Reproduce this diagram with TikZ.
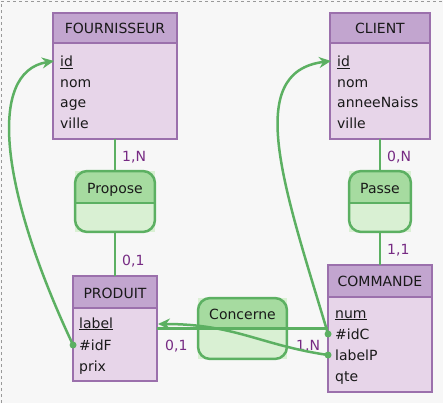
\documentclass[tikz,border=0pt]{standalone}
\usepackage{fontspec}
\setmainfont{DejaVu Sans}
\usetikzlibrary{arrows.meta}
\definecolor{bgc}{RGB}{247,247,247}
\definecolor{enthead}{RGB}{194,165,207}
\definecolor{entbody}{RGB}{231,213,233}
\definecolor{entline}{RGB}{155,112,172}
\definecolor{assohead}{RGB}{166,219,160}
\definecolor{assobody}{RGB}{217,240,211}
\definecolor{assoline}{RGB}{92,176,98}
\definecolor{cardc}{RGB}{118,42,131}
\definecolor{txtc}{RGB}{25,25,25}
\newcommand{\mcdentity}[6]{% name, cx, cy, w, h, header drop from north
  \node[entbox, minimum width=#4, minimum height=#5] (#1) at (#2,#3) {};
  \fill[enthead] (#1.north west) rectangle ([yshift=-#6pt]#1.north east);
  \draw[entline, line width=1.5pt] ([yshift=-#6pt]#1.north west) -- ([yshift=-#6pt]#1.north east);
  \draw[entline, line width=2.5pt] (#1.north west) rectangle (#1.south east);
}
\newcommand{\mcdasso}[6]{% name, cx, cy, w, h, header drop from north
  \node[assobox, minimum width=#4, minimum height=#5] (#1) at (#2,#3) {};
  \begin{scope}
    \clip[rounded corners=12pt] (#1.north west) rectangle (#1.south east);
    \fill[assohead] (#1.north west) rectangle ([yshift=-#6pt]#1.north east);
  \end{scope}
  \draw[assoline, line width=1.5pt] ([yshift=-#6pt]#1.north west) -- ([yshift=-#6pt]#1.north east);
  \draw[assoline, line width=2.5pt, rounded corners=12pt] (#1.north west) rectangle (#1.south east);
}
\begin{document}
\begin{tikzpicture}[x=1pt,y=-1pt,font=\fontsize{14}{16}\selectfont,
  entbox/.style={rectangle, fill=entbody, draw=none, inner sep=0pt},
  assobox/.style={rectangle, fill=assobody, draw=none, inner sep=0pt},
  ttl/.style={anchor=base, text=txtc, inner sep=0pt},
  attr/.style={anchor=base west, text=txtc, inner sep=0pt},
  card/.style={anchor=base west, text=cardc, inner sep=0pt},
  leg/.style={draw=assoline, line width=2.5pt},
  fk/.style={draw=assoline, line width=2.5pt, -{Stealth[length=12pt,width=11pt,inset=4pt]}},
  fkdot/.style={circle, fill=assoline, inner sep=0pt, minimum size=7pt}]
\fill[bgc] (0,0) rectangle (443,403);
\useasboundingbox (0,0) rectangle (443,403);
\draw[gray!80, dashed, line width=0.8pt] (1.2,403) -- (1.2,1.2) -- (443,1.2);

% entities
\mcdentity{fou}{115}{76}{123.5}{125.5}{29.75}
\node[ttl] (fouT) at (115,34) {FOURNISSEUR};
\node[attr] (fouA) at (60,67) {\underline{id}};
\node[attr] (fouB) at (60,87.5) {nom};
\node[attr] (fouC) at (60,108) {age};
\node[attr] (fouD) at (60,129) {ville};

\mcdentity{cli}{380}{76}{99.5}{125.5}{29.75}
\node[ttl] (cliT) at (380,34) {CLIENT};
\node[attr] (cliA) at (337,67) {\underline{id}};
\node[attr] (cliB) at (337,87.5) {nom};
\node[attr] (cliC) at (337,108) {anneeNaiss};
\node[attr] (cliD) at (337,129) {ville};

\mcdentity{prod}{115}{328.5}{83.5}{104.5}{31.75}
\node[ttl] (prodT) at (115,298) {PRODUIT};
\node[attr] (prodA) at (79,328) {\underline{label}};
\node[attr] (prodB) at (79,350) {\#idF};
\node[attr] (prodC) at (79,371) {prix};

\mcdentity{com}{380}{328.5}{103.5}{126.5}{31.75}
\node[ttl] (comT) at (380,286) {COMMANDE};
\node[attr] (comA) at (335,318) {\underline{num}};
\node[attr] (comB) at (335,339) {\#idC};
\node[attr] (comC) at (335,360) {labelP};
\node[attr] (comD) at (335,381) {qte};

% associations
\mcdasso{prop}{115}{201.5}{79.5}{60.5}{31.75}
\node[ttl] (propT) at (115,193) {Propose};
\mcdasso{pass}{380}{201.5}{61.5}{60.5}{31.75}
\node[ttl] (passT) at (380,193) {Passe};
\mcdasso{conc}{242.5}{328.5}{88.5}{60.5}{30.25}
\node[ttl] (concT) at (242.5,319) {Concerne};

% legs
\draw[leg] (fou.south) -- (prop.north);
\draw[leg] (prop.south) -- (prod.north);
\draw[leg] (cli.south) -- (pass.north);
\draw[leg] (pass.south) -- (com.north);
\draw[leg] (prod.east) -- (com.west);

% cardinalities
\node[card] (c1) at (122,161) {1,N};
\node[card] (c2) at (122,265) {0,1};
\node[card] (c3) at (387,161) {0,N};
\node[card] (c4) at (387,254) {1,1};
\node[card] (c5) at (165,350) {0,1};
\node[card] (c6) at (296,350) {1,N};

% foreign keys
\node[fkdot] (dF) at (prod.west |- 0,345) {};
\node[fkdot] (dC) at (com.west |- 0,334) {};
\node[fkdot] (dL) at (com.west |- 0,355) {};
\coordinate (tF) at (54,61);
\coordinate (tC) at (331,61);
\coordinate (tL) at (158,324);
\draw[fk] (dF.center) .. controls (0,190) and (-13,72) .. (tF);
\draw[fk] (dC.center) .. controls (285,190) and (242,72) .. (tC);
\draw[fk] (dL.center) .. controls (260,345) and (235,324) .. (tL);
\end{tikzpicture}
\end{document}
